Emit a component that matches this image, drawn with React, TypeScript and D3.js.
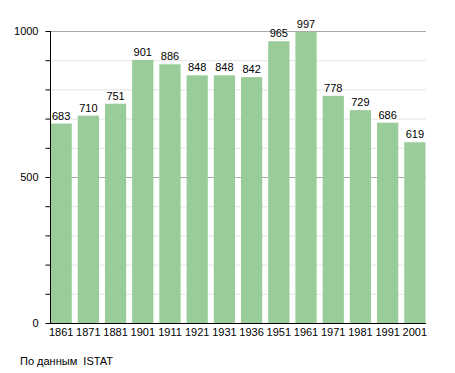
import { useEffect, useRef } from 'react';
import * as d3 from 'd3';

const years = ['1861', '1871', '1881', '1901', '1911', '1921', '1931', '1936', '1951', '1961', '1971', '1981', '1991', '2001'];
const population = [683, 710, 751, 901, 886, 848, 848, 842, 965, 997, 778, 729, 686, 619];
const majorTicks = [0, 500, 1000];
const minorTicks = d3.range(0, 1001, 100);

export default function App() {
  const svgRef = useRef<SVGSVGElement>(null);

  useEffect(() => {
    if (!svgRef.current) return;
    const root = d3.select(svgRef.current);
    root.selectAll('*').remove();

    const left = 50, right = 426, top = 31, bottom = 323;
    const font = 'Liberation Sans, Arial, sans-serif';

    const x = d3.scaleBand<string>()
      .domain(years)
      .range([left, right])
      .paddingInner(0.22)
      .paddingOuter(0.02);

    const y = d3.scaleLinear().domain([0, 1000]).range([bottom, top]);

    // griglia minore
    root.append('g')
      .selectAll('line')
      .data(minorTicks.filter(t => t % 500 !== 0))
      .join('line')
      .attr('x1', left).attr('x2', right)
      .attr('y1', d => y(d) + 0.5).attr('y2', d => y(d) + 0.5)
      .attr('stroke', '#e4e4e4');

    // griglia maggiore
    root.append('g')
      .selectAll('line')
      .data(majorTicks.filter(t => t > 0))
      .join('line')
      .attr('x1', left).attr('x2', right)
      .attr('y1', d => y(d) + 0.5).attr('y2', d => y(d) + 0.5)
      .attr('stroke', '#aaaaaa');

    // barre
    root.append('g')
      .selectAll('rect')
      .data(population)
      .join('rect')
      .attr('x', (_d, i) => x(years[i])!)
      .attr('y', d => y(d))
      .attr('width', x.bandwidth())
      .attr('height', d => bottom - y(d))
      .attr('fill', '#99cc99');

    // etichette valori
    root.append('g')
      .selectAll('text')
      .data(population)
      .join('text')
      .attr('x', (_d, i) => x(years[i])! + x.bandwidth() / 2)
      .attr('y', d => y(d) - 4)
      .attr('text-anchor', 'middle')
      .attr('font-family', font)
      .attr('font-size', 11)
      .attr('fill', '#000')
      .text(d => d);

    // asse y
    const yAxis = root.append('g').attr('transform', `translate(${left + 0.5},0)`);
    yAxis.append('line')
      .attr('x1', 0).attr('x2', 0)
      .attr('y1', top).attr('y2', bottom)
      .attr('stroke', '#000');
    yAxis.selectAll('line.tick')
      .data(minorTicks)
      .join('line')
      .attr('class', 'tick')
      .attr('x1', -5).attr('x2', 0)
      .attr('y1', d => y(d) + 0.5).attr('y2', d => y(d) + 0.5)
      .attr('stroke', '#000');
    yAxis.selectAll('text')
      .data(majorTicks)
      .join('text')
      .attr('x', -12)
      .attr('y', d => y(d) + 4)
      .attr('text-anchor', 'end')
      .attr('font-family', font)
      .attr('font-size', 11)
      .text(d => d);

    // asse x
    root.append('line')
      .attr('x1', left).attr('x2', right)
      .attr('y1', bottom + 0.5).attr('y2', bottom + 0.5)
      .attr('stroke', '#000');
    root.append('g')
      .selectAll('text')
      .data(years)
      .join('text')
      .attr('x', d => x(d)! + x.bandwidth() / 2)
      .attr('y', bottom + 13)
      .attr('text-anchor', 'middle')
      .attr('font-family', font)
      .attr('font-size', 11)
      .text(d => d);

    root.append('text')
      .attr('x', 20)
      .attr('y', 365)
      .attr('font-family', font)
      .attr('font-size', 11)
      .attr('xml:space', 'preserve')
      .text('По данным  ISTAT');
  }, []);

  return (
    <svg
      ref={svgRef}
      width={455}
      height={373}
      style={{ position: 'absolute', left: 0, top: 0, background: '#fff' }}
    />
  );
}
